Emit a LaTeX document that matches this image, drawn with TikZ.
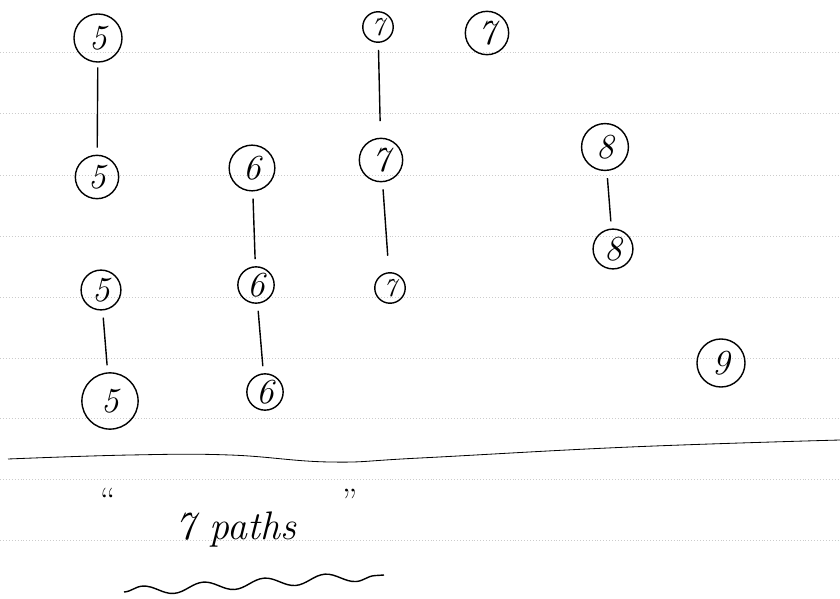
\documentclass[tikz,border=0pt]{standalone}
\usetikzlibrary{decorations.pathmorphing}
\tikzset{
  vert/.style={circle,draw,line width=1.2pt,inner sep=0pt,font=\fontsize{30}{30}\selectfont\itshape},
  tiny/.style={font=\fontsize{22}{22}\selectfont\itshape},
  edge/.style={line width=1.2pt,shorten <=6pt,shorten >=6pt},
  rule/.style={gray!40,dotted,line width=0.5pt}
}
\begin{document}
\begin{tikzpicture}[x=0.3mm,y=-0.3mm]
	\useasboundingbox (0,0) rectangle (840,599);
	% ruled paper
	\foreach \y in {52,113,175,236,297,358,418,479,540}
		\draw[rule] (0,\y) -- (840,\y);
	% vertices
	\node[vert,minimum size=41] (fa) at (98,38) {5};
	\node[vert,minimum size=37] (fb) at (97,177) {5};
	\node[vert,minimum size=34] (fc) at (101,290) {5};
	\node[vert,minimum size=48] (fd) at (110,401) {5};
	\node[vert,minimum size=39] (sa) at (252,168) {6};
	\node[vert,minimum size=31] (sb) at (256,285) {6};
	\node[vert,minimum size=31] (sc) at (265,392) {6};
	\node[vert,tiny,minimum size=26] (ta) at (378,27) {7};
	\node[vert,minimum size=37] (tb) at (381,160) {7};
	\node[vert,tiny,minimum size=26] (tc) at (390,288) {7};
	\node[vert,minimum size=37] (td) at (487,33) {7};
	\node[vert,minimum size=40] (ea) at (605,147) {8};
	\node[vert,minimum size=34] (eb) at (613,249) {8};
	\node[vert,minimum size=41] (na) at (721,363) {9};
	% edges
	\draw[edge,shorten <=4pt] (fa) -- (fb);
	\draw[edge] (fc) -- (fd);
	\draw[edge] (sa) -- (sb);
	\draw[edge] (sb) -- (sc);
	\draw[edge,shorten >=14pt] (ta) -- (tb);
	\draw[edge,shorten >=14pt] (tb) -- (tc);
	\draw[edge] (ea) -- (eb);
	% divider
	\draw[line width=0.7pt] plot[smooth,tension=0.7] coordinates
		{(8,459) (130,455) (230,455) (330,462) (420,458) (630,447) (840,440)};
	% caption
	\node[font=\fontsize{34}{34}\selectfont\itshape] (cap) at (236,530) {7 paths};
	\node[font=\fontsize{30}{30}\selectfont] (ql) at (108,500) {``};
	\node[font=\fontsize{30}{30}\selectfont] (qr) at (350,501) {''};
	\draw[line width=1.2pt,decorate,decoration={snake,amplitude=4pt,segment length=52pt}]
		(124,592) -- (384,575);
\end{tikzpicture}
\end{document}
